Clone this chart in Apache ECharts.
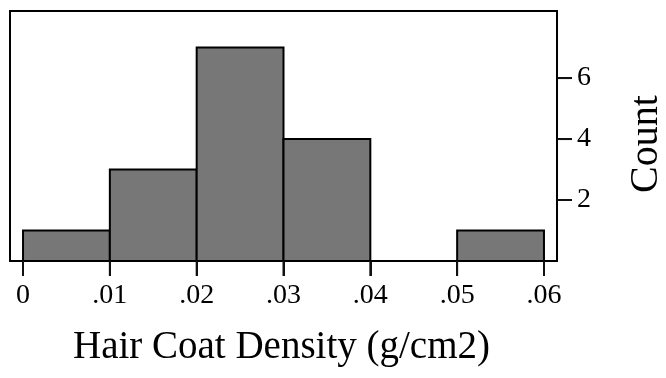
<!DOCTYPE html>
<html>
<head>
<meta charset="utf-8">
<script src="https://cdn.jsdelivr.net/npm/echarts@6/dist/echarts.min.js"></script>
<style>
  html, body { margin: 0; padding: 0; background: #fff; }
  #chart { width: 666px; height: 378px; }
</style>
</head>
<body>
<div id="chart"></div>
<script>
// Histogram bins (lower edge, upper edge) and counts
const binStarts = [0, 0.01, 0.02, 0.03, 0.04, 0.05];
const binEnds   = [0.01, 0.02, 0.03, 0.04, 0.05, 0.06];
const counts    = [1, 3, 7, 4, 0, 1];

// Axis ticks
const xTickValues = [0, 0.01, 0.02, 0.03, 0.04, 0.05, 0.06];
const xTickLabels = ['0', '.01', '.02', '.03', '.04', '.05', '.06'];
const yTickValues = [2, 4, 6];

// Axis titles
const xTitle = 'Hair Coat Density (g/cm2)';
const yTitle = 'Count';

const X_MIN = -0.0015, X_MAX = 0.0615;
const Y_MIN = 0, Y_MAX = 8.2;
const TICK_LEN = 15;

const FONT = '"Liberation Serif", "Times New Roman", serif';

const chart = echarts.init(document.getElementById('chart'), null, { renderer: 'canvas' });

const data = binStarts.map((s, i) => [s, binEnds[i], counts[i]]);

// Tick marks: short outward strokes placed through the axis scales
function xTickItem(params, api) {
  const p = api.coord([api.value(0), api.value(1)]);
  return {
    type: 'line',
    shape: { x1: p[0], y1: p[1], x2: p[0], y2: p[1] + TICK_LEN },
    style: { stroke: '#111', lineWidth: 2 }
  };
}
function yTickItem(params, api) {
  const p = api.coord([api.value(0), api.value(1)]);
  return {
    type: 'line',
    shape: { x1: p[0], y1: p[1], x2: p[0] + TICK_LEN, y2: p[1] },
    style: { stroke: '#111', lineWidth: 2 }
  };
}

chart.setOption({
  animation: false,
  grid: {
    left: 10, right: 109, top: 11, bottom: 117,
    outerBoundsMode: 'none',
    containLabel: false,
    show: true,
    borderColor: '#000',
    borderWidth: 2,
    backgroundColor: 'transparent'
  },
  graphic: [
    {
      type: 'text',
      left: 283 - 210,
      top: 328,
      style: { text: xTitle, font: '39px ' + FONT, fill: '#000' }
    },
    {
      type: 'text',
      x: 626,
      y: 144,
      rotation: Math.PI / 2,
      style: { text: yTitle, font: '40px ' + FONT, fill: '#000', align: 'center', verticalAlign: 'top' }
    }
  ],
  xAxis: {
    type: 'value',
    min: X_MIN,
    max: X_MAX,
    axisLine: { show: true, onZero: false, lineStyle: { color: '#000', width: 2 } },
    splitLine: { show: false },
    axisTick: {
      show: true,
      customValues: xTickValues,
      length: TICK_LEN,
      lineStyle: { color: '#111', width: 2 }
    },
    axisLabel: {
      customValues: xTickValues,
      margin: 21,
      fontFamily: FONT,
      fontSize: 28,
      color: '#000',
      formatter: function (v) {
        const i = xTickValues.findIndex(t => Math.abs(t - v) < 1e-9);
        return i >= 0 ? xTickLabels[i] : '';
      }
    }
  },
  yAxis: {
    type: 'value',
    position: 'right',
    min: Y_MIN,
    max: Y_MAX,
    axisLine: { show: true, onZero: false, lineStyle: { color: '#000', width: 2 } },
    splitLine: { show: false },
    axisTick: {
      show: true,
      customValues: yTickValues,
      length: TICK_LEN,
      lineStyle: { color: '#111', width: 2 }
    },
    axisLabel: {
      customValues: yTickValues,
      margin: 20,
      fontFamily: FONT,
      fontSize: 28,
      color: '#000'
    }
  },
  series: [
    {
      type: 'custom',
      data: data,
      encode: { x: [0, 1], y: 2 },
      renderItem: function (params, api) {
        const c = api.value(2);
        if (!c) return null;
        const p0 = api.coord([api.value(0), 0]);
        const p1 = api.coord([api.value(1), c]);
        return {
          type: 'rect',
          shape: { x: p0[0], y: p1[1], width: p1[0] - p0[0], height: p0[1] - p1[1] },
          style: { fill: '#777777', stroke: '#000', lineWidth: 2 }
        };
      }
    },
    {
      type: 'custom',
      clip: false,
      z: 100,
      data: xTickValues.map(v => [v, Y_MIN]),
      encode: { x: 0, y: 1 },
      renderItem: xTickItem
    },
    {
      type: 'custom',
      clip: false,
      z: 100,
      data: yTickValues.map(v => [X_MAX, v]),
      encode: { x: 0, y: 1 },
      renderItem: yTickItem
    }
  ]
});
</script>
</body>
</html>
